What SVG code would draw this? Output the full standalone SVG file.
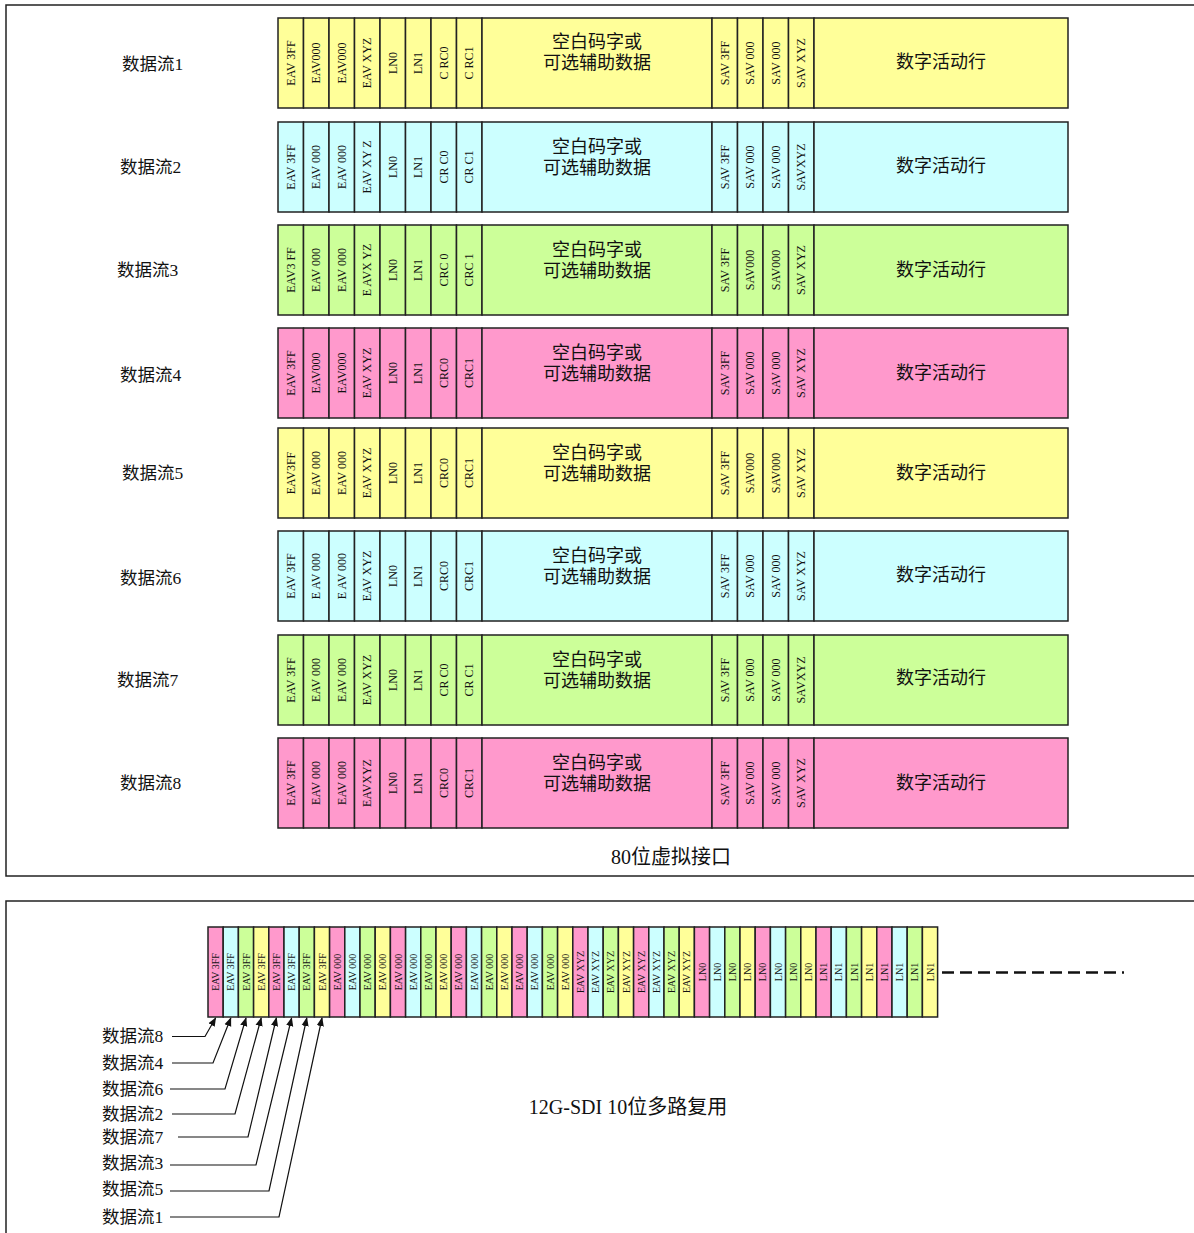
<svg xmlns="http://www.w3.org/2000/svg" width="1194" height="1233" viewBox="0 0 1194 1233">
<style>
text{font-family:"Liberation Serif","Noto Sans CJK SC",serif;fill:#111}
.lbl{font-size:17.5px}
.c{font-size:12px;text-anchor:middle;dominant-baseline:central}
.s{font-size:10px;text-anchor:middle;dominant-baseline:central}
.big{font-size:18px;text-anchor:middle}
.cap{font-size:20px;text-anchor:middle}
.y{fill:#ffff99}.b{fill:#ccffff}.g{fill:#ccff99}.p{fill:#ff99cc}
rect.cell{stroke:#222;stroke-width:1.5}
.frame{fill:none;stroke:#222;stroke-width:1.5}
.conn{fill:none;stroke:#111;stroke-width:1.2}
</style>
<defs>
<marker id="ah" viewBox="0 0 10 10" refX="9" refY="5" markerWidth="9" markerHeight="9" orient="auto" markerUnits="userSpaceOnUse">
<path d="M0,1 L10,5 L0,9 Z" fill="#111"/>
</marker>
</defs>
<rect width="1194" height="1233" fill="#fff"/>
<rect class="frame" x="6" y="5" width="1200" height="871"/>
<rect class="frame" x="6" y="901" width="1200" height="400"/>

<g id="row1">
<text class="lbl" x="122" y="70">数据流1</text>
<rect class="cell y" x="278" y="18" width="25.5" height="90"/><rect class="cell y" x="303.5" y="18" width="25.5" height="90"/><rect class="cell y" x="329" y="18" width="25.5" height="90"/><rect class="cell y" x="354.5" y="18" width="25.5" height="90"/><rect class="cell y" x="380" y="18" width="25.5" height="90"/><rect class="cell y" x="405.5" y="18" width="25.5" height="90"/><rect class="cell y" x="431" y="18" width="25.5" height="90"/><rect class="cell y" x="456.5" y="18" width="25.5" height="90"/><rect class="cell y" x="482" y="18" width="230" height="90"/><rect class="cell y" x="712" y="18" width="25.5" height="90"/><rect class="cell y" x="737.5" y="18" width="25.5" height="90"/><rect class="cell y" x="763" y="18" width="25.5" height="90"/><rect class="cell y" x="788.5" y="18" width="25.5" height="90"/><rect class="cell y" x="814" y="18" width="254" height="90"/>
<text class="c" transform="translate(290.75,63) rotate(-90)">EAV 3FF</text><text class="c" transform="translate(316.25,63) rotate(-90)">EAV000</text><text class="c" transform="translate(341.75,63) rotate(-90)">EAV000</text><text class="c" transform="translate(367.25,63) rotate(-90)">EAV XYZ</text><text class="c" transform="translate(392.75,63) rotate(-90)">LN0</text><text class="c" transform="translate(418.25,63) rotate(-90)">LN1</text><text class="c" transform="translate(443.75,63) rotate(-90)">C RC0</text><text class="c" transform="translate(469.25,63) rotate(-90)">C RC1</text>
<text class="big" x="597" y="48">空白码字或</text><text class="big" x="597" y="69">可选辅助数据</text>
<text class="c" transform="translate(724.75,63) rotate(-90)">SAV 3FF</text><text class="c" transform="translate(750.25,63) rotate(-90)">SAV 000</text><text class="c" transform="translate(775.75,63) rotate(-90)">SAV 000</text><text class="c" transform="translate(801.25,63) rotate(-90)">SAV XYZ</text>
<text class="big" x="941" y="68">数字活动行</text>
</g>

<g id="row2">
<text class="lbl" x="120" y="173">数据流2</text>
<rect class="cell b" x="278" y="122" width="25.5" height="90"/><rect class="cell b" x="303.5" y="122" width="25.5" height="90"/><rect class="cell b" x="329" y="122" width="25.5" height="90"/><rect class="cell b" x="354.5" y="122" width="25.5" height="90"/><rect class="cell b" x="380" y="122" width="25.5" height="90"/><rect class="cell b" x="405.5" y="122" width="25.5" height="90"/><rect class="cell b" x="431" y="122" width="25.5" height="90"/><rect class="cell b" x="456.5" y="122" width="25.5" height="90"/><rect class="cell b" x="482" y="122" width="230" height="90"/><rect class="cell b" x="712" y="122" width="25.5" height="90"/><rect class="cell b" x="737.5" y="122" width="25.5" height="90"/><rect class="cell b" x="763" y="122" width="25.5" height="90"/><rect class="cell b" x="788.5" y="122" width="25.5" height="90"/><rect class="cell b" x="814" y="122" width="254" height="90"/>
<text class="c" transform="translate(290.75,167) rotate(-90)">EAV 3FF</text><text class="c" transform="translate(316.25,167) rotate(-90)">EAV 000</text><text class="c" transform="translate(341.75,167) rotate(-90)">EAV 000</text><text class="c" transform="translate(367.25,167) rotate(-90)">EAV XY Z</text><text class="c" transform="translate(392.75,167) rotate(-90)">LN0</text><text class="c" transform="translate(418.25,167) rotate(-90)">LN1</text><text class="c" transform="translate(443.75,167) rotate(-90)">CR C0</text><text class="c" transform="translate(469.25,167) rotate(-90)">CR C1</text>
<text class="big" x="597" y="153">空白码字或</text><text class="big" x="597" y="174">可选辅助数据</text>
<text class="c" transform="translate(724.75,167) rotate(-90)">SAV 3FF</text><text class="c" transform="translate(750.25,167) rotate(-90)">SAV 000</text><text class="c" transform="translate(775.75,167) rotate(-90)">SAV 000</text><text class="c" transform="translate(801.25,167) rotate(-90)">SAVXYZ</text>
<text class="big" x="941" y="172">数字活动行</text>
</g>

<g id="row3">
<text class="lbl" x="117" y="276">数据流3</text>
<rect class="cell g" x="278" y="225" width="25.5" height="90"/><rect class="cell g" x="303.5" y="225" width="25.5" height="90"/><rect class="cell g" x="329" y="225" width="25.5" height="90"/><rect class="cell g" x="354.5" y="225" width="25.5" height="90"/><rect class="cell g" x="380" y="225" width="25.5" height="90"/><rect class="cell g" x="405.5" y="225" width="25.5" height="90"/><rect class="cell g" x="431" y="225" width="25.5" height="90"/><rect class="cell g" x="456.5" y="225" width="25.5" height="90"/><rect class="cell g" x="482" y="225" width="230" height="90"/><rect class="cell g" x="712" y="225" width="25.5" height="90"/><rect class="cell g" x="737.5" y="225" width="25.5" height="90"/><rect class="cell g" x="763" y="225" width="25.5" height="90"/><rect class="cell g" x="788.5" y="225" width="25.5" height="90"/><rect class="cell g" x="814" y="225" width="254" height="90"/>
<text class="c" transform="translate(290.75,270) rotate(-90)">EAV3 FF</text><text class="c" transform="translate(316.25,270) rotate(-90)">EAV 000</text><text class="c" transform="translate(341.75,270) rotate(-90)">EAV 000</text><text class="c" transform="translate(367.25,270) rotate(-90)">E AVX YZ</text><text class="c" transform="translate(392.75,270) rotate(-90)">LN0</text><text class="c" transform="translate(418.25,270) rotate(-90)">LN1</text><text class="c" transform="translate(443.75,270) rotate(-90)">CRC 0</text><text class="c" transform="translate(469.25,270) rotate(-90)">CRC 1</text>
<text class="big" x="597" y="256">空白码字或</text><text class="big" x="597" y="277">可选辅助数据</text>
<text class="c" transform="translate(724.75,270) rotate(-90)">SAV 3FF</text><text class="c" transform="translate(750.25,270) rotate(-90)">SAV000</text><text class="c" transform="translate(775.75,270) rotate(-90)">SAV000</text><text class="c" transform="translate(801.25,270) rotate(-90)">SAV XYZ</text>
<text class="big" x="941" y="276">数字活动行</text>
</g>

<g id="row4">
<text class="lbl" x="120" y="381">数据流4</text>
<rect class="cell p" x="278" y="328" width="25.5" height="90"/><rect class="cell p" x="303.5" y="328" width="25.5" height="90"/><rect class="cell p" x="329" y="328" width="25.5" height="90"/><rect class="cell p" x="354.5" y="328" width="25.5" height="90"/><rect class="cell p" x="380" y="328" width="25.5" height="90"/><rect class="cell p" x="405.5" y="328" width="25.5" height="90"/><rect class="cell p" x="431" y="328" width="25.5" height="90"/><rect class="cell p" x="456.5" y="328" width="25.5" height="90"/><rect class="cell p" x="482" y="328" width="230" height="90"/><rect class="cell p" x="712" y="328" width="25.5" height="90"/><rect class="cell p" x="737.5" y="328" width="25.5" height="90"/><rect class="cell p" x="763" y="328" width="25.5" height="90"/><rect class="cell p" x="788.5" y="328" width="25.5" height="90"/><rect class="cell p" x="814" y="328" width="254" height="90"/>
<text class="c" transform="translate(290.75,373) rotate(-90)">EAV 3FF</text><text class="c" transform="translate(316.25,373) rotate(-90)">EAV000</text><text class="c" transform="translate(341.75,373) rotate(-90)">EAV000</text><text class="c" transform="translate(367.25,373) rotate(-90)">EAV XYZ</text><text class="c" transform="translate(392.75,373) rotate(-90)">LN0</text><text class="c" transform="translate(418.25,373) rotate(-90)">LN1</text><text class="c" transform="translate(443.75,373) rotate(-90)">CRC0</text><text class="c" transform="translate(469.25,373) rotate(-90)">CRC1</text>
<text class="big" x="597" y="359">空白码字或</text><text class="big" x="597" y="380">可选辅助数据</text>
<text class="c" transform="translate(724.75,373) rotate(-90)">SAV 3FF</text><text class="c" transform="translate(750.25,373) rotate(-90)">SAV 000</text><text class="c" transform="translate(775.75,373) rotate(-90)">SAV 000</text><text class="c" transform="translate(801.25,373) rotate(-90)">SAV XYZ</text>
<text class="big" x="941" y="379">数字活动行</text>
</g>

<g id="row5">
<text class="lbl" x="122" y="479">数据流5</text>
<rect class="cell y" x="278" y="428" width="25.5" height="90"/><rect class="cell y" x="303.5" y="428" width="25.5" height="90"/><rect class="cell y" x="329" y="428" width="25.5" height="90"/><rect class="cell y" x="354.5" y="428" width="25.5" height="90"/><rect class="cell y" x="380" y="428" width="25.5" height="90"/><rect class="cell y" x="405.5" y="428" width="25.5" height="90"/><rect class="cell y" x="431" y="428" width="25.5" height="90"/><rect class="cell y" x="456.5" y="428" width="25.5" height="90"/><rect class="cell y" x="482" y="428" width="230" height="90"/><rect class="cell y" x="712" y="428" width="25.5" height="90"/><rect class="cell y" x="737.5" y="428" width="25.5" height="90"/><rect class="cell y" x="763" y="428" width="25.5" height="90"/><rect class="cell y" x="788.5" y="428" width="25.5" height="90"/><rect class="cell y" x="814" y="428" width="254" height="90"/>
<text class="c" transform="translate(290.75,473) rotate(-90)">EAV3FF</text><text class="c" transform="translate(316.25,473) rotate(-90)">EAV 000</text><text class="c" transform="translate(341.75,473) rotate(-90)">EAV 000</text><text class="c" transform="translate(367.25,473) rotate(-90)">EAV XYZ</text><text class="c" transform="translate(392.75,473) rotate(-90)">LN0</text><text class="c" transform="translate(418.25,473) rotate(-90)">LN1</text><text class="c" transform="translate(443.75,473) rotate(-90)">CRC0</text><text class="c" transform="translate(469.25,473) rotate(-90)">CRC1</text>
<text class="big" x="597" y="459">空白码字或</text><text class="big" x="597" y="480">可选辅助数据</text>
<text class="c" transform="translate(724.75,473) rotate(-90)">SAV 3FF</text><text class="c" transform="translate(750.25,473) rotate(-90)">SAV000</text><text class="c" transform="translate(775.75,473) rotate(-90)">SAV000</text><text class="c" transform="translate(801.25,473) rotate(-90)">SAV XYZ</text>
<text class="big" x="941" y="479">数字活动行</text>
</g>

<g id="row6">
<text class="lbl" x="120" y="584">数据流6</text>
<rect class="cell b" x="278" y="531" width="25.5" height="90"/><rect class="cell b" x="303.5" y="531" width="25.5" height="90"/><rect class="cell b" x="329" y="531" width="25.5" height="90"/><rect class="cell b" x="354.5" y="531" width="25.5" height="90"/><rect class="cell b" x="380" y="531" width="25.5" height="90"/><rect class="cell b" x="405.5" y="531" width="25.5" height="90"/><rect class="cell b" x="431" y="531" width="25.5" height="90"/><rect class="cell b" x="456.5" y="531" width="25.5" height="90"/><rect class="cell b" x="482" y="531" width="230" height="90"/><rect class="cell b" x="712" y="531" width="25.5" height="90"/><rect class="cell b" x="737.5" y="531" width="25.5" height="90"/><rect class="cell b" x="763" y="531" width="25.5" height="90"/><rect class="cell b" x="788.5" y="531" width="25.5" height="90"/><rect class="cell b" x="814" y="531" width="254" height="90"/>
<text class="c" transform="translate(290.75,576) rotate(-90)">EAV 3FF</text><text class="c" transform="translate(316.25,576) rotate(-90)">E AV 000</text><text class="c" transform="translate(341.75,576) rotate(-90)">E AV 000</text><text class="c" transform="translate(367.25,576) rotate(-90)">EAV XYZ</text><text class="c" transform="translate(392.75,576) rotate(-90)">LN0</text><text class="c" transform="translate(418.25,576) rotate(-90)">LN1</text><text class="c" transform="translate(443.75,576) rotate(-90)">CRC0</text><text class="c" transform="translate(469.25,576) rotate(-90)">CRC1</text>
<text class="big" x="597" y="562">空白码字或</text><text class="big" x="597" y="583">可选辅助数据</text>
<text class="c" transform="translate(724.75,576) rotate(-90)">SAV 3FF</text><text class="c" transform="translate(750.25,576) rotate(-90)">SAV 000</text><text class="c" transform="translate(775.75,576) rotate(-90)">SAV 000</text><text class="c" transform="translate(801.25,576) rotate(-90)">SAV XYZ</text>
<text class="big" x="941" y="581">数字活动行</text>
</g>

<g id="row7">
<text class="lbl" x="117" y="686">数据流7</text>
<rect class="cell g" x="278" y="635" width="25.5" height="90"/><rect class="cell g" x="303.5" y="635" width="25.5" height="90"/><rect class="cell g" x="329" y="635" width="25.5" height="90"/><rect class="cell g" x="354.5" y="635" width="25.5" height="90"/><rect class="cell g" x="380" y="635" width="25.5" height="90"/><rect class="cell g" x="405.5" y="635" width="25.5" height="90"/><rect class="cell g" x="431" y="635" width="25.5" height="90"/><rect class="cell g" x="456.5" y="635" width="25.5" height="90"/><rect class="cell g" x="482" y="635" width="230" height="90"/><rect class="cell g" x="712" y="635" width="25.5" height="90"/><rect class="cell g" x="737.5" y="635" width="25.5" height="90"/><rect class="cell g" x="763" y="635" width="25.5" height="90"/><rect class="cell g" x="788.5" y="635" width="25.5" height="90"/><rect class="cell g" x="814" y="635" width="254" height="90"/>
<text class="c" transform="translate(290.75,680) rotate(-90)">EAV 3FF</text><text class="c" transform="translate(316.25,680) rotate(-90)">EAV 000</text><text class="c" transform="translate(341.75,680) rotate(-90)">EAV 000</text><text class="c" transform="translate(367.25,680) rotate(-90)">EAV XYZ</text><text class="c" transform="translate(392.75,680) rotate(-90)">LN0</text><text class="c" transform="translate(418.25,680) rotate(-90)">LN1</text><text class="c" transform="translate(443.75,680) rotate(-90)">CR C0</text><text class="c" transform="translate(469.25,680) rotate(-90)">CR C1</text>
<text class="big" x="597" y="666">空白码字或</text><text class="big" x="597" y="687">可选辅助数据</text>
<text class="c" transform="translate(724.75,680) rotate(-90)">SAV 3FF</text><text class="c" transform="translate(750.25,680) rotate(-90)">SAV 000</text><text class="c" transform="translate(775.75,680) rotate(-90)">SAV 000</text><text class="c" transform="translate(801.25,680) rotate(-90)">SAVXYZ</text>
<text class="big" x="941" y="684">数字活动行</text>
</g>

<g id="row8">
<text class="lbl" x="120" y="789">数据流8</text>
<rect class="cell p" x="278" y="738" width="25.5" height="90"/><rect class="cell p" x="303.5" y="738" width="25.5" height="90"/><rect class="cell p" x="329" y="738" width="25.5" height="90"/><rect class="cell p" x="354.5" y="738" width="25.5" height="90"/><rect class="cell p" x="380" y="738" width="25.5" height="90"/><rect class="cell p" x="405.5" y="738" width="25.5" height="90"/><rect class="cell p" x="431" y="738" width="25.5" height="90"/><rect class="cell p" x="456.5" y="738" width="25.5" height="90"/><rect class="cell p" x="482" y="738" width="230" height="90"/><rect class="cell p" x="712" y="738" width="25.5" height="90"/><rect class="cell p" x="737.5" y="738" width="25.5" height="90"/><rect class="cell p" x="763" y="738" width="25.5" height="90"/><rect class="cell p" x="788.5" y="738" width="25.5" height="90"/><rect class="cell p" x="814" y="738" width="254" height="90"/>
<text class="c" transform="translate(290.75,783) rotate(-90)">EAV 3FF</text><text class="c" transform="translate(316.25,783) rotate(-90)">EAV 000</text><text class="c" transform="translate(341.75,783) rotate(-90)">EAV 000</text><text class="c" transform="translate(367.25,783) rotate(-90)">EAVXYZ</text><text class="c" transform="translate(392.75,783) rotate(-90)">LN0</text><text class="c" transform="translate(418.25,783) rotate(-90)">LN1</text><text class="c" transform="translate(443.75,783) rotate(-90)">CRC0</text><text class="c" transform="translate(469.25,783) rotate(-90)">CRC1</text>
<text class="big" x="597" y="769">空白码字或</text><text class="big" x="597" y="790">可选辅助数据</text>
<text class="c" transform="translate(724.75,783) rotate(-90)">SAV 3FF</text><text class="c" transform="translate(750.25,783) rotate(-90)">SAV 000</text><text class="c" transform="translate(775.75,783) rotate(-90)">SAV 000</text><text class="c" transform="translate(801.25,783) rotate(-90)">SAV XYZ</text>
<text class="big" x="941" y="789">数字活动行</text>
</g>

<text class="cap" x="671" y="864">80位虚拟接口</text>

<g id="mux">
<rect class="cell p" x="208" y="927" width="15.2" height="90"/><rect class="cell b" x="223.2" y="927" width="15.2" height="90"/><rect class="cell g" x="238.4" y="927" width="15.2" height="90"/><rect class="cell y" x="253.6" y="927" width="15.2" height="90"/>
<rect class="cell p" x="268.8" y="927" width="15.2" height="90"/><rect class="cell b" x="284" y="927" width="15.2" height="90"/><rect class="cell g" x="299.2" y="927" width="15.2" height="90"/><rect class="cell y" x="314.4" y="927" width="15.2" height="90"/>
<rect class="cell p" x="329.6" y="927" width="15.2" height="90"/><rect class="cell b" x="344.8" y="927" width="15.2" height="90"/><rect class="cell g" x="360" y="927" width="15.2" height="90"/><rect class="cell y" x="375.2" y="927" width="15.2" height="90"/>
<rect class="cell p" x="390.4" y="927" width="15.2" height="90"/><rect class="cell b" x="405.6" y="927" width="15.2" height="90"/><rect class="cell g" x="420.8" y="927" width="15.2" height="90"/><rect class="cell y" x="436" y="927" width="15.2" height="90"/>
<rect class="cell p" x="451.2" y="927" width="15.2" height="90"/><rect class="cell b" x="466.4" y="927" width="15.2" height="90"/><rect class="cell g" x="481.6" y="927" width="15.2" height="90"/><rect class="cell y" x="496.8" y="927" width="15.2" height="90"/>
<rect class="cell p" x="512" y="927" width="15.2" height="90"/><rect class="cell b" x="527.2" y="927" width="15.2" height="90"/><rect class="cell g" x="542.4" y="927" width="15.2" height="90"/><rect class="cell y" x="557.6" y="927" width="15.2" height="90"/>
<rect class="cell p" x="572.8" y="927" width="15.2" height="90"/><rect class="cell b" x="588" y="927" width="15.2" height="90"/><rect class="cell g" x="603.2" y="927" width="15.2" height="90"/><rect class="cell y" x="618.4" y="927" width="15.2" height="90"/>
<rect class="cell p" x="633.6" y="927" width="15.2" height="90"/><rect class="cell b" x="648.8" y="927" width="15.2" height="90"/><rect class="cell g" x="664" y="927" width="15.2" height="90"/><rect class="cell y" x="679.2" y="927" width="15.2" height="90"/>
<rect class="cell p" x="694.4" y="927" width="15.2" height="90"/><rect class="cell b" x="709.6" y="927" width="15.2" height="90"/><rect class="cell g" x="724.8" y="927" width="15.2" height="90"/><rect class="cell y" x="740" y="927" width="15.2" height="90"/>
<rect class="cell p" x="755.2" y="927" width="15.2" height="90"/><rect class="cell b" x="770.4" y="927" width="15.2" height="90"/><rect class="cell g" x="785.6" y="927" width="15.2" height="90"/><rect class="cell y" x="800.8" y="927" width="15.2" height="90"/>
<rect class="cell p" x="816" y="927" width="15.2" height="90"/><rect class="cell b" x="831.2" y="927" width="15.2" height="90"/><rect class="cell g" x="846.4" y="927" width="15.2" height="90"/><rect class="cell y" x="861.6" y="927" width="15.2" height="90"/>
<rect class="cell p" x="876.8" y="927" width="15.2" height="90"/><rect class="cell b" x="892" y="927" width="15.2" height="90"/><rect class="cell g" x="907.2" y="927" width="15.2" height="90"/><rect class="cell y" x="922.4" y="927" width="15.2" height="90"/>
<text class="s" transform="translate(215.6,972) rotate(-90)">EAV 3FF</text><text class="s" transform="translate(230.8,972) rotate(-90)">EAV 3FF</text><text class="s" transform="translate(246,972) rotate(-90)">EAV 3FF</text><text class="s" transform="translate(261.2,972) rotate(-90)">EAV 3FF</text>
<text class="s" transform="translate(276.4,972) rotate(-90)">EAV 3FF</text><text class="s" transform="translate(291.6,972) rotate(-90)">EAV 3FF</text><text class="s" transform="translate(306.8,972) rotate(-90)">EAV 3FF</text><text class="s" transform="translate(322,972) rotate(-90)">EAV 3FF</text>
<text class="s" transform="translate(337.2,972) rotate(-90)">EAV 000</text><text class="s" transform="translate(352.4,972) rotate(-90)">EAV 000</text><text class="s" transform="translate(367.6,972) rotate(-90)">EAV 000</text><text class="s" transform="translate(382.8,972) rotate(-90)">EAV 000</text>
<text class="s" transform="translate(398,972) rotate(-90)">EAV 000</text><text class="s" transform="translate(413.2,972) rotate(-90)">EAV 000</text><text class="s" transform="translate(428.4,972) rotate(-90)">EAV 000</text><text class="s" transform="translate(443.6,972) rotate(-90)">EAV 000</text>
<text class="s" transform="translate(458.8,972) rotate(-90)">EAV 000</text><text class="s" transform="translate(474,972) rotate(-90)">EAV 000</text><text class="s" transform="translate(489.2,972) rotate(-90)">EAV 000</text><text class="s" transform="translate(504.4,972) rotate(-90)">EAV 000</text>
<text class="s" transform="translate(519.6,972) rotate(-90)">EAV 000</text><text class="s" transform="translate(534.8,972) rotate(-90)">EAV 000</text><text class="s" transform="translate(550,972) rotate(-90)">EAV 000</text><text class="s" transform="translate(565.2,972) rotate(-90)">EAV 000</text>
<text class="s" transform="translate(580.4,972) rotate(-90)">EAV XYZ</text><text class="s" transform="translate(595.6,972) rotate(-90)">EAV XYZ</text><text class="s" transform="translate(610.8,972) rotate(-90)">EAV XYZ</text><text class="s" transform="translate(626,972) rotate(-90)">EAV XYZ</text>
<text class="s" transform="translate(641.2,972) rotate(-90)">EAV XYZ</text><text class="s" transform="translate(656.4,972) rotate(-90)">EAV XYZ</text><text class="s" transform="translate(671.6,972) rotate(-90)">EAV XYZ</text><text class="s" transform="translate(686.8,972) rotate(-90)">EAV XYZ</text>
<text class="s" transform="translate(702,972) rotate(-90)">LN0</text><text class="s" transform="translate(717.2,972) rotate(-90)">LN0</text><text class="s" transform="translate(732.4,972) rotate(-90)">LN0</text><text class="s" transform="translate(747.6,972) rotate(-90)">LN0</text>
<text class="s" transform="translate(762.8,972) rotate(-90)">LN0</text><text class="s" transform="translate(778,972) rotate(-90)">LN0</text><text class="s" transform="translate(793.2,972) rotate(-90)">LN0</text><text class="s" transform="translate(808.4,972) rotate(-90)">LN0</text>
<text class="s" transform="translate(823.6,972) rotate(-90)">LN1</text><text class="s" transform="translate(838.8,972) rotate(-90)">LN1</text><text class="s" transform="translate(854,972) rotate(-90)">LN1</text><text class="s" transform="translate(869.2,972) rotate(-90)">LN1</text>
<text class="s" transform="translate(884.4,972) rotate(-90)">LN1</text><text class="s" transform="translate(899.6,972) rotate(-90)">LN1</text><text class="s" transform="translate(914.8,972) rotate(-90)">LN1</text><text class="s" transform="translate(930,972) rotate(-90)">LN1</text>
</g>
<line x1="942" y1="972.5" x2="1124" y2="972.5" stroke="#111" stroke-width="2.5" stroke-dasharray="12 6"/>

<g id="mux-labels">
<text class="lbl" x="102" y="1042">数据流8</text>
<text class="lbl" x="102" y="1069">数据流4</text>
<text class="lbl" x="102" y="1095">数据流6</text>
<text class="lbl" x="102" y="1120">数据流2</text>
<text class="lbl" x="102" y="1143">数据流7</text>
<text class="lbl" x="102" y="1169">数据流3</text>
<text class="lbl" x="102" y="1195">数据流5</text>
<text class="lbl" x="102" y="1223">数据流1</text>
</g>
<g id="connectors">
<polyline class="conn" points="172,1036.5 205,1036.5 215.6,1018" marker-end="url(#ah)"/>
<polyline class="conn" points="172,1063 213,1063 230.8,1018" marker-end="url(#ah)"/>
<polyline class="conn" points="170,1089 225,1089 246,1018" marker-end="url(#ah)"/>
<polyline class="conn" points="172,1114 235,1114 261.2,1018" marker-end="url(#ah)"/>
<polyline class="conn" points="178,1137 248,1137 276.4,1018" marker-end="url(#ah)"/>
<polyline class="conn" points="170,1165 256,1165 291.6,1018" marker-end="url(#ah)"/>
<polyline class="conn" points="170,1191 269,1191 306.8,1018" marker-end="url(#ah)"/>
<polyline class="conn" points="170,1217 279,1217 322,1018" marker-end="url(#ah)"/>
</g>
<text class="cap" x="628" y="1114">12G-SDI 10位多路复用</text>
</svg>
